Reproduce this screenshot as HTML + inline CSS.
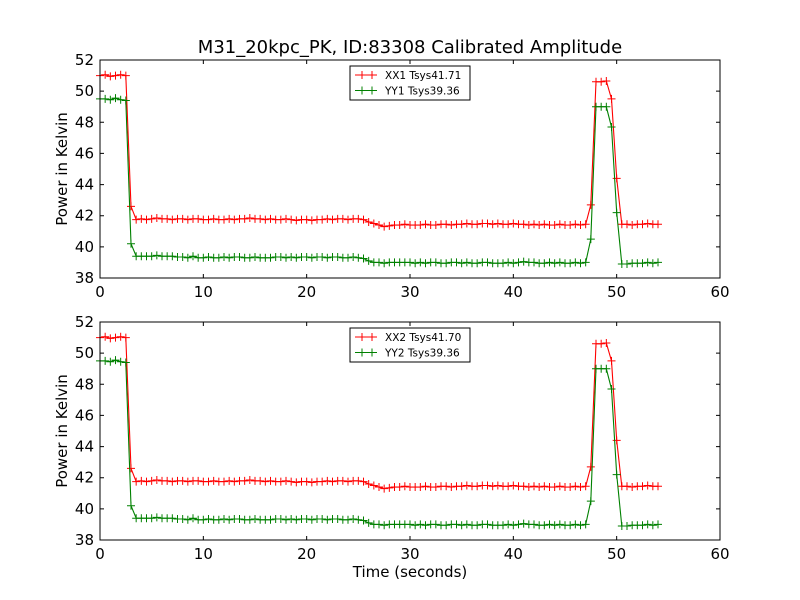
<!DOCTYPE html>
<html><head><meta charset="utf-8"><style>
body{margin:0;background:#fff}
svg{display:block;font-family:"DejaVu Sans","Liberation Sans",sans-serif}
</style></head><body>
<svg id="chart" width="800" height="600" viewBox="0 0 800 600"></svg>
<script>
const times = [];
for (let i = 0; i <= 108; i++) times.push(i * 0.5);
const xx1 = [51.0,51.05,50.95,51.0,51.05,51.0, 42.6,
 41.75,41.8,41.75,41.8,41.85,41.8,41.8,41.75,41.8,41.8, 41.75,41.8,41.8,41.75,41.75,41.8,41.75,41.75,41.8,41.75, 41.8,41.8,41.85,41.8,41.8,41.75,41.8,41.75,41.75,41.8, 41.75,41.7,41.75,41.75,41.7,41.75,41.75,41.8,41.75,41.8, 41.8,41.75,41.8,41.8,
 41.75,41.6,41.5,41.4,41.3,
 41.35,41.4,41.4,41.45,41.4,41.4,41.4,41.45,41.4,41.4, 41.45,41.45,41.4,41.45,41.45,41.5,41.45,41.45,41.5,41.5, 41.45,41.5,41.45,41.45,41.5,41.45,41.45,41.4,41.45,41.4, 41.45,41.4,41.4,41.45,41.4,41.4,41.45,41.4,41.45,
 42.7, 50.6,50.6,50.65, 49.5, 44.4,
 41.45,41.45,41.4,41.45,41.45,41.5,41.45,41.45];
const yy1 = [49.5,49.5,49.45,49.55,49.45,49.4, 40.2,
 39.4,39.4,39.4,39.4,39.45,39.4,39.4,39.4,39.35,39.35, 39.3,39.4,39.3,39.3,39.35,39.3,39.3,39.35,39.3,39.35, 39.35,39.3,39.3,39.35,39.3,39.3,39.3,39.35,39.35,39.3, 39.35,39.3,39.35,39.35,39.3,39.35,39.35,39.3,39.35,39.35, 39.3,39.3,39.35,39.3,
 39.25,39.1,39.0,39.0,38.95,
 39.0,39.0,39.0,39.0,39.0,38.95,39.0,38.95,39.0,39.0, 38.95,38.95,39.0,39.0,38.95,39.0,38.95,38.95,39.0,39.0, 38.95,38.95,38.95,39.0,38.95,39.0,39.05,39.0,39.0,38.95, 38.95,39.0,38.95,39.0,38.95,38.95,39.0,38.95,39.0,
 40.5, 49.0,49.0,49.0, 47.7, 42.2,
 38.9,38.9,38.95,38.95,38.95,39.0,38.95,39.0];
const xx2 = xx1.map(v => v);
const yy2 = yy1.map(v => v);
const xTicks = [0,10,20,30,40,50,60];
const yTicks = [38,40,42,44,46,48,50,52];

const NS = "http://www.w3.org/2000/svg";
const svg = document.getElementById("chart");
function mk(tag, attrs, parent) {
  const e = document.createElementNS(NS, tag);
  for (const k in attrs) e.setAttribute(k, attrs[k]);
  (parent || svg).appendChild(e);
  return e;
}
const t = mk("text", {x: 410, y: 53, "text-anchor": "middle", "font-size": 18});


t.textContent = "M31_20kpc_PK, ID:83308 Calibrated Amplitude";

function panel(top, sA, sB, labA, labB, idx, showX) {
  const L = 100, R = 720, B = top + 218;
  const xs = v => L + (v - 0) / 60 * (R - L);
  const ys = v => B - (v - 38) / 14 * (B - top);
  const g = mk("g", {});
  
  
  [[sA, "#ff0000", labA], [sB, "#008000", labB]].forEach(([s, c, lab], si) => {
    const gs = mk("g", {}, g);
    
    
    const pts = s.map((v, i) => xs(times[i]).toFixed(1) + "," + ys(v).toFixed(1)).join(" ");
    mk("polyline", {points: pts, fill: "none", stroke: c, "stroke-width": 1.1}, gs);
    let d = "";
    s.forEach((v, i) => { const x = xs(times[i]), y = ys(v); d += `M${x-4},${y}h8M${x},${y-4}v8`; });
    mk("path", {d, stroke: c, "stroke-width": 1}, gs);
  });
  const fr = mk("rect", {x: L, y: top, width: R - L, height: B - top, fill: "none", stroke: "#000", "stroke-width": 1}, g);
  
  
  xTicks.forEach(v => {
    const x = xs(v);
    mk("path", {d: `M${x},${B}v-4M${x},${top}v4`, stroke: "#000"}, g);
    const tx = mk("text", {x, y: B + 19, "text-anchor": "middle", "font-size": 15}, g);
    
    
    tx.textContent = v;
  });
  yTicks.forEach(v => {
    const y = ys(v);
    mk("path", {d: `M${L},${y}h4M${R},${y}h-4`, stroke: "#000"}, g);
    const ty = mk("text", {x: L - 6, y: y + 5, "text-anchor": "end", "font-size": 15}, g);
    
    
    ty.textContent = v;
  });
  const yl = mk("text", {x: 0, y: 0, transform: `translate(67,${(top + B) / 2}) rotate(-90)`, "text-anchor": "middle", "font-size": 15}, g);
  
  
  yl.textContent = "Power in Kelvin";
  if (showX) {
    const xl = mk("text", {x: 410, y: B + 37, "text-anchor": "middle", "font-size": 15}, g);
    
    
    xl.textContent = "Time (seconds)";
  }
  const lg = mk("g", {}, g);
  
  
  mk("rect", {x: 350, y: top + 6, width: 120, height: 34, fill: "#fff", stroke: "#000"}, lg);
  [[labA, "#ff0000"], [labB, "#008000"]].forEach(([lab, c], i) => {
    const y = top + 15 + i * 15.5;
    mk("path", {d: `M355,${y}h22M362,${y-4}v8M372,${y-4}v8`, stroke: c}, lg);
    const e = mk("text", {x: 385, y: y + 4, "font-size": 10.5}, lg);
    
    
    e.textContent = lab;
  });
}
panel(60, xx1, yy1, "XX1 Tsys41.71", "YY1 Tsys39.36", 1, false);
panel(322, xx2, yy2, "XX2 Tsys41.70", "YY2 Tsys39.36", 2, true);
</script>
</body></html>
